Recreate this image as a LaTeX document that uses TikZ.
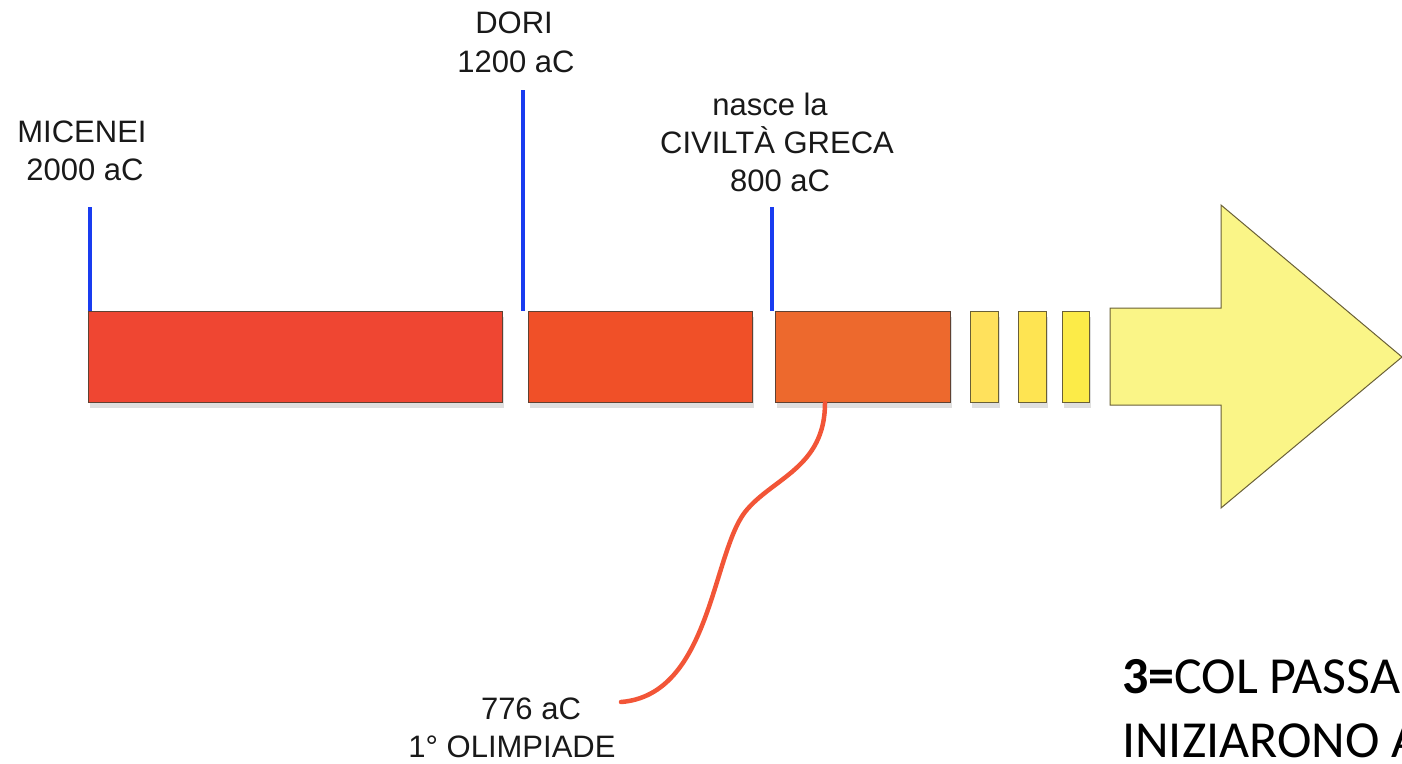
\documentclass[tikz,border=0pt]{standalone}
\usepackage{fontspec}
\setmainfont{Liberation Sans}
\newfontfamily\labfont{Liberation Sans}
\newfontfamily\calfont{Carlito}
\usetikzlibrary{shadows}
\definecolor{cbA}{RGB}{239,70,50}
\definecolor{cbB}{RGB}{240,80,40}
\definecolor{cbC}{RGB}{237,105,45}
\definecolor{cyA}{RGB}{255,225,92}
\definecolor{cyB}{RGB}{254,228,82}
\definecolor{cyC}{RGB}{252,235,72}
\definecolor{cyArrow}{RGB}{250,245,135}
\definecolor{cblue}{RGB}{25,60,240}
\definecolor{ccurve}{RGB}{242,85,55}
\definecolor{cedge}{RGB}{95,65,50}
\definecolor{cedgeY}{RGB}{105,95,55}
\tikzset{
  period/.style={draw=cedge, line width=1.1pt, inner sep=0pt, anchor=north west,
    drop shadow={opacity=0.25, shadow xshift=1pt, shadow yshift=-5pt}},
  minor/.style={draw=cedgeY, line width=1.1pt, inner sep=0pt, anchor=north west,
    minimum width=28pt, minimum height=91pt,
    drop shadow={opacity=0.25, shadow xshift=1pt, shadow yshift=-5pt}},
  lab/.style={font=\labfont\fontsize{31}{37}\selectfont, anchor=base, inner sep=0pt, text=black!90},
  tick/.style={draw=cblue, line width=4pt},
  note/.style={font=\calfont\fontsize{52}{64}\selectfont, anchor=base west, inner sep=0pt}
}
\begin{document}
\begin{tikzpicture}[x=1pt,y=-1pt]
\useasboundingbox (0,0) rectangle (1402,763);
% periods
\node[period, fill=cbA, minimum width=414pt, minimum height=91pt] (b1) at (88,311) {};
\node[period, fill=cbB, minimum width=224pt, minimum height=91pt] (b2) at (528,311) {};
\node[period, fill=cbC, minimum width=175pt, minimum height=91pt] (b3) at (775,311) {};
\node[minor, fill=cyA] (s1) at (970,311) {};
\node[minor, fill=cyB] (s2) at (1018,311) {};
\node[minor, fill=cyC, minimum width=27pt] (s3) at (1062,311) {};
% big arrow
\draw[draw=cedgeY, line width=1pt, fill=cyArrow]
  (1110,308) -- (1221,308) -- (1221,205) -- (1402,357) -- (1221,508) -- (1221,405) -- (1110,405) -- cycle;
% labels
\node[lab] (micenei) at (82,142) {MICENEI};
\node[lab] (micY) at (85,180) {2000 aC};
\node[lab] (dori) at (514,33) {DORI};
\node[lab] (doriY) at (516,72) {1200 aC};
\node[lab] (nasce) at (770,115) {nasce la};
\node[lab] (civ) at (777,153) {CIVILTÀ GRECA};
\node[lab] (civY) at (780,191) {800 aC};
\node[lab] (olY) at (531,719) {776 aC};
\node[lab] (ol) at (512,757) {1° OLIMPIADE};
% ticks
\coordinate (t1) at (90,207);
\coordinate (t2) at (523,90);
\coordinate (t3) at (772,207);
\draw[tick] (t1) -- (t1 |- b1.north);
\draw[tick] (t2) -- (t2 |- b2.north);
\draw[tick] (t3) -- (t3 |- b3.north);
% curve
\coordinate (cstart) at (825,403);
\coordinate (cend) at (621,702);
\draw[ccurve, line width=4.5pt, line cap=round]
  (cstart) .. controls (825,468) and (772,478) .. (745,512)
  .. controls (712,555) and (710,695) .. (cend);
% note
\node[note] (n1) at (1122,693) {\textbf{3=}COL PASSA};
\node[note] (n2) at (1122,757) {INIZIARONO A};
\end{tikzpicture}
\end{document}
